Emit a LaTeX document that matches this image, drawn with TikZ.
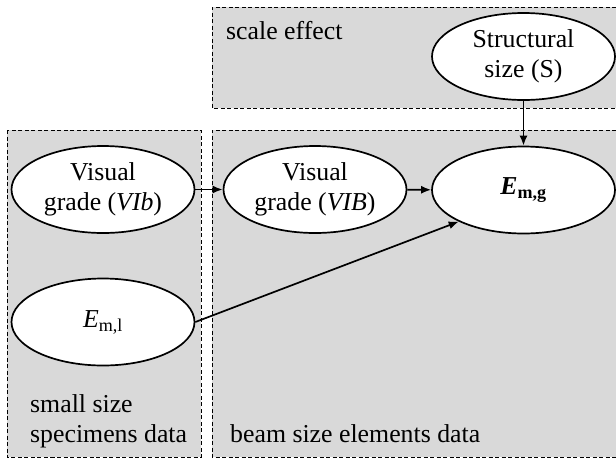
\documentclass[tikz,border=0pt]{standalone}
\usepackage{fontspec}
\setmainfont{Liberation Serif}
\usetikzlibrary{shapes.geometric,arrows.meta}
\definecolor{boxgray}{RGB}{217,217,217}
\begin{document}
\begin{tikzpicture}[x=1pt,y=-1pt,
  region/.style={draw=black,line width=0.9pt,dash pattern=on 4pt off 2.5pt},
  var/.style={ellipse,draw=black,fill=white,line width=1.7pt,minimum width=183pt,minimum height=87pt,inner sep=0pt,align=center,font=\fontsize{25.8}{29.5}\selectfont},
  lbl/.style={inner sep=0pt,font=\fontsize{25.8}{30}\selectfont},
  link/.style={line width=1.7pt,-{Latex[length=10pt,width=8pt]}}]
\useasboundingbox (0,0) rectangle (616,459);
% regions
\fill[boxgray] (212,7) rectangle (616,108);
\draw[region] (616,7) -- (212,7) -- (212,108) -- (616,108);
\fill[boxgray] (7,130) rectangle (201,457);
\draw[region] (7,130) rectangle (201,457);
\fill[boxgray] (212,130) rectangle (616,457);
\draw[region] (616,130) -- (212,130) -- (212,457) -- (616,457);
% labels
\node[lbl,anchor=base west] (se) at (226,39) {scale effect};
\node[lbl,anchor=west,align=left] (ssd) at (30,421) {small size\\specimens data};
\node[lbl,anchor=base west] (bsd) at (230,442) {beam size elements data};
% variables
\node[var] (vib) at (103,189.5) {Visual\\grade (\textit{VIb})};
\node[var] (vibig) at (315,189.5) {Visual\\grade (\textit{VIB})};
\node[var] (emg) at (523.5,190) {\textbf{\textit{E}\textsubscript{m,g}}};
\node[var] (ss) at (523.5,56.5) {Structural\\size (S)};
\node[var] (eml) at (103,322) {\textit{E}\textsubscript{m,l}};
% links
\draw[link] (vib) -- (vibig);
\draw[link] (vibig) -- (emg);
\draw[link] (ss) -- (emg);
\draw[link] (eml.east) -- (emg.206);
\end{tikzpicture}
\end{document}
